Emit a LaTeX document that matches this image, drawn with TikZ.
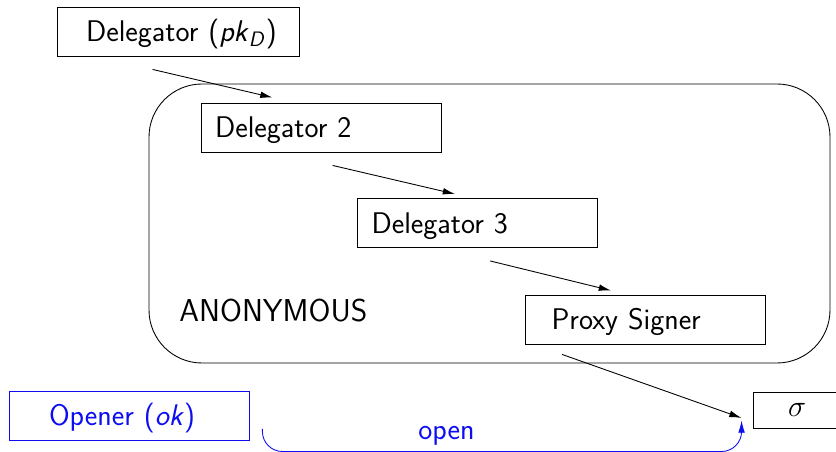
\documentclass[tikz,border=0pt]{standalone}
\usepackage{xcolor}
\usepackage{tikz}
\usetikzlibrary{arrows.meta,positioning}
\definecolor{openblue}{rgb}{0.05,0.05,0.95}
\newlength{\boxw}
\setlength{\boxw}{4.8cm}
\tikzset{
  party/.style={draw, line width=0.5pt, minimum height=0.98cm, inner xsep=0.28cm,
    text height=0.54cm, text depth=0.12cm,
    text width=\boxw-0.56cm, align=left, font=\fontsize{17}{20}\selectfont\sffamily},
  pass/.style={-{Latex[length=7pt,width=3.8pt]}, line width=0.5pt}
}

\begin{document}
\begin{tikzpicture}[x=0.02cm, y=-0.02cm]
  \useasboundingbox (0,0) rectangle (836,452);
  % anonymous zone
  \draw[line width=0.5pt, rounded corners=1.06cm] (149,84) rectangle (830,363);
  \node[anchor=base west, inner sep=0pt, font=\fontsize{18}{20}\selectfont\sffamily] (anon) at (179,322) {ANONYMOUS};

  % chain of delegation
  \node[party, minimum width=4.84cm] (dlg1) at (178,31.5) {\hspace*{0.28cm}Delegator (\textit{pk}\textsubscript{\textit{D}})};
  \node[party] (dlg2) at (321,127.5) {Delegator 2};
  \node[party] (dlg3) at (477.5,223) {Delegator 3};
  \node[party] (proxy) at (645.5,319.5) {\hspace*{0.24cm}Proxy Signer};
  \node[party, draw=openblue, text=openblue] (opener) at (129,415.5) {\hspace*{0.52cm}Opener (\textit{ok})};
  \node[draw, line width=0.5pt, minimum width=1.76cm, minimum height=0.72cm, font=\fontsize{17}{20}\selectfont] (sig) at (797,410) {$\sigma$};

  \draw[pass] ([shift={(96,13)}]dlg1.south west) -- ([shift={(72,-5)}]dlg2.north west);
  \draw[pass] ([shift={(132,13)}]dlg2.south west) -- ([shift={(98,-4)}]dlg3.north west);
  \draw[pass] ([shift={(133,13)}]dlg3.south west) -- ([shift={(86,-4)}]proxy.north west);
  \draw[pass] ([shift={(37,10)}]proxy.south west) -- ([shift={(-11,8)}]sig.west);

  % opening
  \draw[pass, openblue, rounded corners=0.4cm] ([shift={(13,13.5)}]opener.east) -- ++(0,22.5) -| ([shift={(-11,-8)}]sig.south west);
  \node[anchor=base west, inner sep=0pt, text=openblue, font=\fontsize{17}{20}\selectfont\sffamily] (openlbl) at (418,440) {open};
\end{tikzpicture}
\end{document}
